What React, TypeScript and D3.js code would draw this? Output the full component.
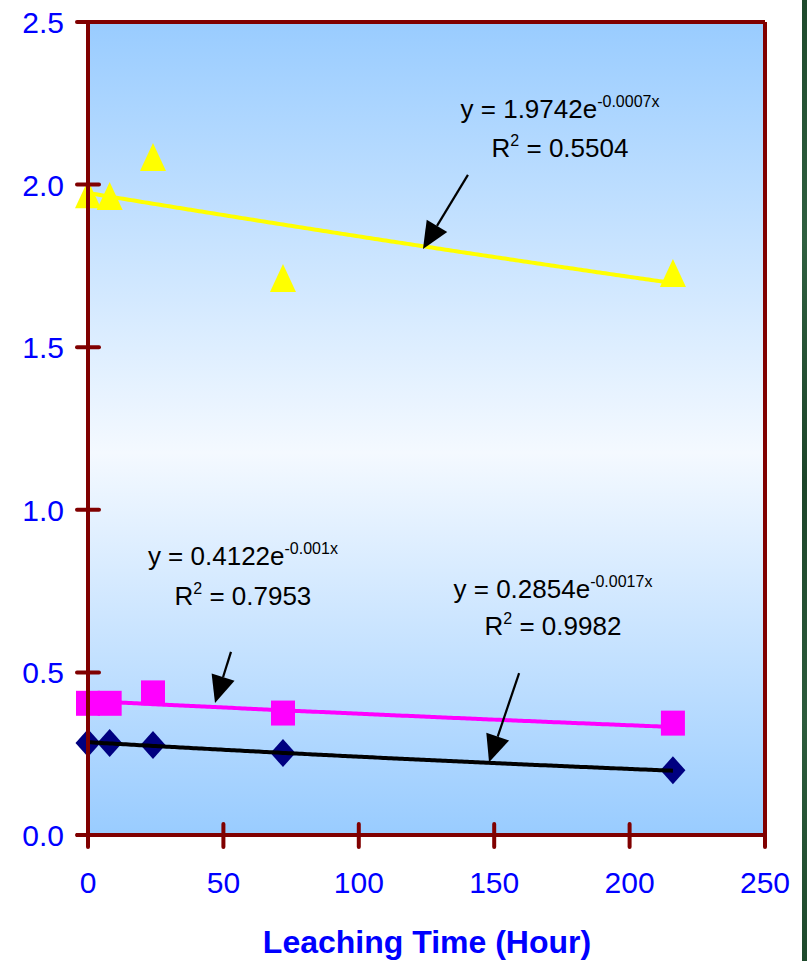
import React from "react";
import * as d3 from "d3";

const hours = [0, 8, 24, 72, 216];
const diamondVals = [0.283, 0.283, 0.277, 0.252, 0.199];
const squareVals = [0.405, 0.405, 0.437, 0.375, 0.344];
const triangleVals = [1.97, 1.965, 2.085, 1.713, 1.728];

// trendline coefficients y = a * e^(b x)
const trendA = [0.2854, 0.4122, 1.9742];
const trendB = [-0.0017, -0.001, -0.0007];
const trendR2 = ["0.9982", "0.7953", "0.5504"];
const trendBText = ["-0.0017x", "-0.001x", "-0.0007x"];
const trendAText = ["0.2854", "0.4122", "1.9742"];

const xTicks = [0, 50, 100, 150, 200, 250];
const yTicks = [0, 0.5, 1.0, 1.5, 2.0, 2.5];
const xTitle = "Leaching Time (Hour)";

// annotation positions in data space: [labelX, line1Y, line2Y, arrowStartX, arrowStartY, arrowTipX, arrowTipY]
const labelPos = [
  [171.7, 0.729, 0.615, 159.2, 0.498, 148.1, 0.224],
  [57.2, 0.83, 0.707, 52.8, 0.563, 46.9, 0.406],
  [174.3, 2.205, 2.085, 140.3, 2.03, 123.7, 1.802],
];

const W = 807;
const H = 961;
const FONT = "'Liberation Sans', Arial, sans-serif";

export default function App() {
  const x = d3.scaleLinear().domain([0, 250]).range([88, 765]);
  const y = d3.scaleLinear().domain([0, 2.5]).range([835, 22]);
  const left = x(0), right = x(250), top = y(2.5), bottom = y(0);

  const trendColors = ["#000000", "#FF00FF", "#FFFF00"];
  const trendPath = (i: number) => {
    const pts = d3.range(0, 216.01, 1).map((t) => [t, trendA[i] * Math.exp(trendB[i] * t)] as [number, number]);
    return d3.line<[number, number]>().x((d) => x(d[0])).y((d) => y(d[1]))(pts) || "";
  };

  const diamond = "M0,-14L12.5,0L0,14L-12.5,0Z";
  const square = "M-12,-12.5H12V12.5H-12Z";
  const tri = "M0,-14L13,14L-13,14Z";

  const arrow = (sx: number, sy: number, tx: number, ty: number) => {
    const x1 = x(sx), y1 = y(sy), x2 = x(tx), y2 = y(ty);
    const dx = x2 - x1, dy = y2 - y1;
    const len = Math.hypot(dx, dy);
    const ux = dx / len, uy = dy / len;
    const hl = 27, hw = 12;
    const bx = x2 - ux * hl, by = y2 - uy * hl;
    const p1 = [bx - uy * hw, by + ux * hw];
    const p2 = [bx + uy * hw, by - ux * hw];
    return (
      <g>
        <line x1={x1} y1={y1} x2={bx} y2={by} stroke="#000" strokeWidth={2.2} />
        <polygon points={`${x2},${y2} ${p1[0]},${p1[1]} ${p2[0]},${p2[1]}`} fill="#000" />
      </g>
    );
  };

  return (
    <svg width={W} height={H} style={{ position: "absolute", left: 0, top: 0, background: "#fff" }} fontFamily={FONT}>
      <defs>
        <linearGradient id="bg" x1="0" y1="0" x2="0" y2="1">
          <stop offset="0%" stopColor="#99CCFF" />
          <stop offset="53%" stopColor="#F4F9FF" />
          <stop offset="100%" stopColor="#99CCFF" />
        </linearGradient>
        <linearGradient id="green" x1="0" y1="0" x2="0" y2="1">
          <stop offset="0%" stopColor="#1e4a2c" />
          <stop offset="25%" stopColor="#2f6040" />
          <stop offset="50%" stopColor="#1c4529" />
          <stop offset="75%" stopColor="#2c5c3c" />
          <stop offset="100%" stopColor="#1e4a2c" />
        </linearGradient>
      </defs>
      <rect x={802} y={0} width={5} height={H} fill="url(#green)" />
      <rect x={left} y={top} width={right - left} height={bottom - top} fill="url(#bg)" />

      {/* diamonds & black trend */}
      {hours.map((h, i) => (
        <path key={"d" + i} d={diamond} transform={`translate(${x(h)},${y(diamondVals[i])})`} fill="#000080" />
      ))}
      <path d={trendPath(0)} fill="none" stroke={trendColors[0]} strokeWidth={4} />
      {/* squares & magenta trend */}
      <path d={trendPath(1)} fill="none" stroke={trendColors[1]} strokeWidth={4} />
      {hours.map((h, i) => (
        <path key={"s" + i} d={square} transform={`translate(${x(h)},${y(squareVals[i])})`} fill="#FF00FF" />
      ))}
      {/* triangles & yellow trend */}
      <path d={trendPath(2)} fill="none" stroke={trendColors[2]} strokeWidth={4} />
      {hours.map((h, i) => (
        <path key={"t" + i} d={tri} transform={`translate(${x(h)},${y(triangleVals[i])})`} fill="#FFFF00" />
      ))}

      {/* frame */}
      <line x1={left} y1={top} x2={right} y2={top} stroke="#800000" strokeWidth={4} />
      <line x1={right} y1={top} x2={right} y2={bottom} stroke="#800000" strokeWidth={4} />
      <line x1={left} y1={top - 2} x2={left} y2={bottom + 12} stroke="#800000" strokeWidth={4} />
      <line x1={left - 12} y1={bottom} x2={right + 2} y2={bottom} stroke="#800000" strokeWidth={4} />
      {yTicks.map((t) => (
        <g key={"yt" + t}>
          <line x1={left - 11} x2={left + 11} y1={y(t)} y2={y(t)} stroke="#800000" strokeWidth={4} strokeLinecap="round" />
          <text x={64} y={y(t) + 11} textAnchor="end" fontSize={30} fill="#0000FF">{t.toFixed(1)}</text>
        </g>
      ))}
      {xTicks.map((t) => (
        <g key={"xt" + t}>
          <line x1={x(t)} x2={x(t)} y1={bottom - 11} y2={bottom + 12} stroke="#800000" strokeWidth={4} strokeLinecap="round" />
          <text x={x(t)} y={893} textAnchor="middle" fontSize={30} fill="#0000FF">{t}</text>
        </g>
      ))}
      <text x={427} y={953} textAnchor="middle" fontSize={32} fontWeight="bold" fill="#0000FF">{xTitle}</text>

      {/* annotations */}
      {labelPos.map((p, i) => (
        <g key={"a" + i}>
          <text x={x(p[0])} y={y(p[1])} textAnchor="middle" fontSize={26} fill="#000">
            <tspan>{`y = ${trendAText[i]}e`}</tspan>
            <tspan fontSize={16} dy={-11}>{trendBText[i]}</tspan>
          </text>
          <text x={x(p[0])} y={y(p[2])} textAnchor="middle" fontSize={26} fill="#000">
            <tspan>R</tspan>
            <tspan fontSize={16} dy={-11}>2</tspan>
            <tspan dy={11}>{` = ${trendR2[i]}`}</tspan>
          </text>
          {arrow(p[3], p[4], p[5], p[6])}
        </g>
      ))}
    </svg>
  );
}
